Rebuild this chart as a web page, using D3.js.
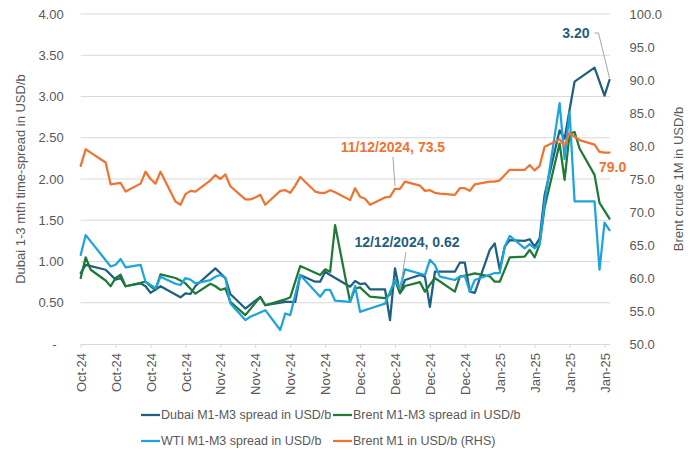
<!DOCTYPE html>
<html><head><meta charset="utf-8">
<script src="https://cdn.jsdelivr.net/npm/d3@7"></script>
<style>
body{margin:0;background:#fff}
text{font-family:"Liberation Sans",Arial,sans-serif}
</style>
</head><body>
<svg id="chart" width="700" height="457"></svg>
<script>
// ---- data (daily, weekdays; null = no value that day, line connects across) ----
const dates = [
"2024-10-09","2024-10-10","2024-10-11","2024-10-14","2024-10-15","2024-10-16","2024-10-17","2024-10-18",
"2024-10-21","2024-10-22","2024-10-23","2024-10-24","2024-10-25","2024-10-28","2024-10-29","2024-10-30","2024-10-31",
"2024-11-01","2024-11-04","2024-11-05","2024-11-06","2024-11-07","2024-11-08","2024-11-11","2024-11-12","2024-11-13",
"2024-11-14","2024-11-15","2024-11-18","2024-11-19","2024-11-20","2024-11-21","2024-11-22","2024-11-25","2024-11-26",
"2024-11-27","2024-11-28","2024-11-29","2024-12-02","2024-12-03","2024-12-04","2024-12-05","2024-12-06","2024-12-09",
"2024-12-10","2024-12-11","2024-12-12","2024-12-13","2024-12-16","2024-12-17","2024-12-18","2024-12-19","2024-12-20",
"2024-12-23","2024-12-24","2024-12-25","2024-12-26","2024-12-27","2024-12-30","2024-12-31","2025-01-01","2025-01-02",
"2025-01-03","2025-01-06","2025-01-07","2025-01-08","2025-01-09","2025-01-10","2025-01-13","2025-01-14","2025-01-15",
"2025-01-16","2025-01-17","2025-01-20","2025-01-21","2025-01-22","2025-01-23"];

const dubaiSpread = [
0.86,0.96,null,0.90,null,0.78,0.80,0.70,
0.735,0.70,0.62,null,0.70,null,0.566,0.614,0.606,
0.703,null,0.917,null,0.80,0.606,0.43,null,null,
0.57,0.47,null,0.51,0.51,0.51,0.836,0.755,0.755,
0.876,0.836,null,0.695,0.763,0.727,0.735,0.663,0.663,
0.29,0.917,0.62,0.776,0.836,0.816,0.45,0.876,null,
0.876,0.985,0.985,0.634,0.62,1.14,1.22,0.90,1.18,
1.26,1.25,1.27,1.18,1.28,1.81,2.59,2.49,2.84,
3.18,null,3.35,null,3.01,3.20];

const brentSpread = [
0.80,1.05,0.90,0.77,0.70,0.80,0.84,0.70,
0.74,0.755,0.70,0.655,0.845,0.80,0.77,0.735,0.67,
0.61,0.73,0.70,0.655,0.675,0.51,0.35,null,null,
0.57,0.47,null,0.54,0.566,null,0.945,null,0.836,
0.905,0.876,1.44,0.51,0.675,0.687,null,0.573,0.555,
0.60,0.776,0.614,0.703,0.75,0.634,0.72,0.80,null,
0.634,0.816,0.83,0.84,0.856,0.82,0.755,0.755,null,
1.05,1.06,1.14,1.05,1.21,1.66,2.43,1.99,2.55,
2.57,2.37,2.05,1.71,null,1.52];

const wtiSpread = [
1.08,1.32,null,null,0.94,0.96,1.03,0.93,
0.96,0.755,null,0.675,0.815,0.73,0.715,0.80,0.78,
0.735,0.775,0.815,0.836,0.80,0.49,0.29,0.33,null,
null,0.41,0.17,0.37,0.35,null,0.836,null,0.573,
0.655,0.655,0.525,0.51,0.703,0.39,0.41,0.43,0.49,
null,0.776,0.675,0.905,null,0.836,1.02,0.957,0.816,
0.776,0.816,0.824,0.634,0.776,0.84,0.86,0.86,1.18,
1.31,1.16,1.21,1.16,1.21,1.72,2.92,2.24,2.81,
1.73,1.73,1.73,0.90,1.47,1.38];

const brentM1 = [
77.0,79.5,79.0,77.5,74.2,74.3,74.4,73.1,
74.3,76.1,75.0,74.3,76.1,71.6,71.1,72.7,73.2,
73.1,74.8,75.6,75.0,75.7,73.9,71.9,71.9,72.2,
72.6,71.1,73.2,73.3,72.9,74.0,75.3,73.1,72.9,
72.9,73.3,73.0,71.8,73.6,72.3,72.0,71.1,72.2,
72.3,73.5,73.5,74.6,74.0,73.2,73.3,72.9,72.8,
72.6,73.6,73.6,73.2,74.2,74.6,74.6,74.8,75.6,
76.4,76.4,77.1,76.3,77.0,79.9,81.0,80.0,82.0,
81.4,80.9,80.2,79.1,79.0,79.0];

const tickDates = ["2024-10-09","2024-10-16","2024-10-23","2024-10-30","2024-11-06","2024-11-13","2024-11-20","2024-11-27",
"2024-12-04","2024-12-11","2024-12-18","2024-12-25","2025-01-01","2025-01-08","2025-01-15","2025-01-22"];
const leftTicks = [0,0.5,1,1.5,2,2.5,3,3.5,4];
const rightTicks = [50,55,60,65,70,75,80,85,90,95,100];
const seriesNames = ["Dubai M1-M3 spread in USD/b","Brent M1-M3 spread in USD/b","WTI M1-M3 spread in USD/b","Brent M1 in USD/b (RHS)"];
const annotations = [
  {series:"brentM1", date:"2024-12-11", label:"11/12/2024, 73.5"},
  {series:"dubai", date:"2024-12-12", label:"12/12/2024, 0.62"}
];

// ---- drawing ----
const parse = d3.utcParse("%Y-%m-%d");
const W = 700, H = 457;
const L = 80.7, R = 609.5, T = 14, B = 344;
const grey = "#595959";
const colors = {dubai:"#1f5f82", brentSpread:"#1f7a35", wti:"#1ea4dc", brentM1:"#ef7331"};

const svg = d3.select("#chart");
const x = d3.scaleUtc().domain([parse(dates[0]), parse(dates[dates.length-1])]).range([L, R]);
const yL = d3.scaleLinear().domain([0,4]).range([B, T]);
const yR = d3.scaleLinear().domain([50,100]).range([B, T]);

// gridlines
svg.append("g").selectAll("line").data(leftTicks.filter(d=>d>0)).join("line")
  .attr("x1", L).attr("x2", 610).attr("y1", d=>yL(d)).attr("y2", d=>yL(d))
  .attr("stroke", "#d9d9d9").attr("stroke-width", 1);

// left axis
const gl = svg.append("g").attr("transform", `translate(${L},0)`)
  .call(d3.axisLeft(yL).tickValues(leftTicks).tickSize(0).tickPadding(17)
    .tickFormat(d => d === 0 ? "-" : d.toFixed(2)));
gl.select(".domain").remove();
gl.selectAll("text").attr("fill", grey).style("font-size", "13px").style("font-family", '"Liberation Sans",Arial,sans-serif');
gl.selectAll(".tick").filter(d => d === 0).select("text").attr("x", -24);

// right axis
const gr = svg.append("g").attr("transform", `translate(${R},0)`)
  .call(d3.axisRight(yR).tickValues(rightTicks).tickSize(0).tickPadding(20)
    .tickFormat(d => d.toFixed(1)));
gr.select(".domain").remove();
gr.selectAll("text").attr("fill", grey).style("font-size", "13px").style("font-family", '"Liberation Sans",Arial,sans-serif');

// bottom axis
const gb = svg.append("g").attr("transform", `translate(0,${B})`)
  .call(d3.axisBottom(x).tickValues(tickDates.map(parse)).tickSize(4)
    .tickFormat(d3.utcFormat("%b-%y")));
gb.select(".domain").attr("d", `M${L},0.5H610`).attr("stroke", "#d9d9d9");
gb.selectAll(".tick line").attr("stroke", "#d9d9d9");
gb.selectAll("text").attr("fill", grey).style("font-size", "13px").style("font-family", '"Liberation Sans",Arial,sans-serif')
  .attr("transform", "rotate(-90)").attr("text-anchor", "end")
  .attr("x", -9).attr("y", 0).attr("dy", "0.35em");

// axis titles
svg.append("text").attr("transform", `translate(25,${(T+B)/2}) rotate(-90)`)
  .attr("text-anchor", "middle").attr("fill", grey).style("font-size", "13px")
  .text("Dubai 1-3 mth time-spread in USD/b");
svg.append("text").attr("transform", `translate(683,${(T+B)/2}) rotate(-90)`)
  .attr("text-anchor", "middle").attr("fill", grey).style("font-size", "13px")
  .text("Brent crude 1M in USD/b");

// lines
function series(vals, key) {
  return dates.map((d,i)=>({date: parse(d), v: vals[i]})).filter(p => p.v !== null);
}
const defs = [
  {key:"dubai", vals: dubaiSpread, y: yL},
  {key:"brentSpread", vals: brentSpread, y: yL},
  {key:"wti", vals: wtiSpread, y: yL},
  {key:"brentM1", vals: brentM1, y: yR}
];
defs.forEach(s => {
  const line = d3.line().x(p => x(p.date)).y(p => s.y(p.v));
  svg.append("path").datum(series(s.vals))
    .attr("d", line).attr("fill", "none").attr("stroke", colors[s.key])
    .attr("stroke-width", 2.25).attr("stroke-linejoin", "round").attr("stroke-linecap", "round");
});

// annotations / data labels
const leader = "#a6a6a6";
// 11/12/2024 Brent
{
  const i = dates.indexOf(annotations[0].date);
  const px = x(parse(dates[i])), py = yR(brentM1[i]);
  svg.append("line").attr("x1", px - 2).attr("y1", 157).attr("x2", px).attr("y2", py - 3)
    .attr("stroke", leader).attr("stroke-width", 1);
  svg.append("text").attr("x", px - 2).attr("y", 152).attr("text-anchor", "middle")
    .attr("fill", colors.brentM1).style("font-size", "14px").style("font-weight", "bold")
    .text(annotations[0].label);
}
// 12/12/2024 Dubai
{
  const i = dates.indexOf(annotations[1].date);
  const px = x(parse(dates[i])), py = yL(dubaiSpread[i]);
  svg.append("line").attr("x1", px + 6).attr("y1", 252).attr("x2", px).attr("y2", py - 3)
    .attr("stroke", leader).attr("stroke-width", 1);
  svg.append("text").attr("x", px + 7).attr("y", 247).attr("text-anchor", "middle")
    .attr("fill", colors.dubai).style("font-size", "14px").style("font-weight", "bold")
    .text(annotations[1].label);
}
// last Dubai value
{
  const n = dates.length - 1;
  const px = x(parse(dates[n])), py = yL(dubaiSpread[n]);
  svg.append("path").attr("d", `M${px-15},33H${px-11}L${px},${py-2}`)
    .attr("fill", "none").attr("stroke", leader).attr("stroke-width", 1);
  svg.append("text").attr("x", px - 20).attr("y", 38).attr("text-anchor", "end")
    .attr("fill", colors.dubai).style("font-size", "14px").style("font-weight", "bold")
    .text(dubaiSpread[n].toFixed(2));
}
// last Brent M1 value
{
  const n = dates.length - 1;
  svg.append("text").attr("x", 599).attr("y", 172).attr("text-anchor", "start")
    .attr("fill", colors.brentM1).style("font-size", "14px").style("font-weight", "bold")
    .text(brentM1[n].toFixed(1));
}

// legend
const legendItems = [
  {name: seriesNames[0], key:"dubai", x:141, y:415},
  {name: seriesNames[1], key:"brentSpread", x:333, y:415},
  {name: seriesNames[2], key:"wti", x:141, y:441},
  {name: seriesNames[3], key:"brentM1", x:333, y:441}
];
const lg = svg.append("g");
legendItems.forEach(it => {
  lg.append("line").attr("x1", it.x).attr("x2", it.x + 19).attr("y1", it.y).attr("y2", it.y)
    .attr("stroke", colors[it.key]).attr("stroke-width", 2.25);
  lg.append("text").attr("x", it.x + 20).attr("y", it.y).attr("dy", "0.35em")
    .attr("fill", grey).style("font-size", "12.5px").text(it.name);
});
</script>
</body></html>
